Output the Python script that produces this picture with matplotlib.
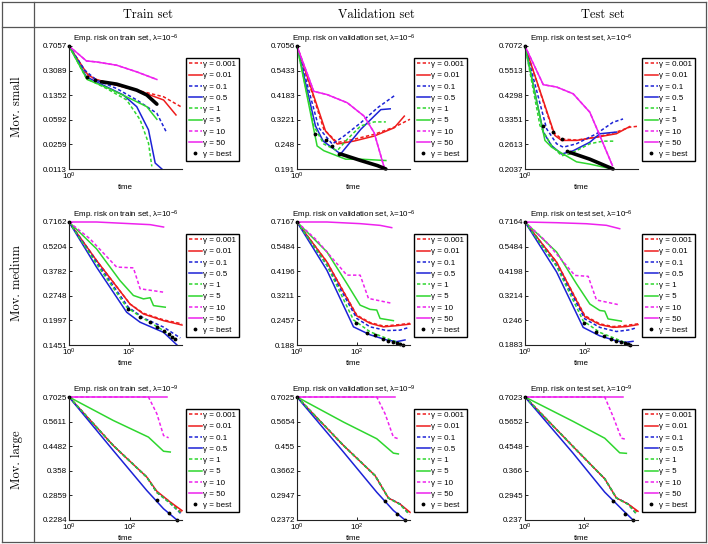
import matplotlib
matplotlib.use('Agg')
import matplotlib.pyplot as plt
from matplotlib.lines import Line2D
from matplotlib.ticker import FixedLocator, NullLocator

plt.rcParams['font.family'] = ['Liberation Sans', 'DejaVu Sans']
plt.rcParams['mathtext.fontset'] = 'custom'
plt.rcParams['mathtext.rm'] = 'Liberation Sans'
plt.rcParams['mathtext.it'] = 'Liberation Sans:italic'
plt.rcParams['mathtext.bf'] = 'Liberation Sans:bold'

# ---------------- data ----------------
gammas = ['0.001', '0.01', '0.1', '0.5', '1', '5', '10', '50']
col_titles = ['Train set', 'Validation set', 'Test set']
row_titles = ['Mov. small', 'Mov. medium', 'Mov. large']
set_names = ['train', 'validation', 'test']
lambda_exp = ['-6', '-6', '-9']

small_train = {
    '0.001': ([1, 1.376, 1.654, 2.389, 3.452, 5.640, 7.90], [0.7057, 0.280, 0.224, 0.189, 0.160, 0.128, 0.0898]),
    '0.01': ([1, 1.419, 1.654, 2.389, 3.452, 5.640, 7.077], [0.7057, 0.264, 0.229, 0.189, 0.160, 0.115, 0.0695]),
    '0.1': ([1, 1.334, 1.654, 2.389, 3.452, 4.988, 5.996], [0.7057, 0.313, 0.224, 0.169, 0.115, 0.0735, 0.0376]),
    '0.5': ([1, 1.376, 1.870, 2.702, 3.452, 4.280, 4.837, 5.469], [0.7057, 0.250, 0.189, 0.136, 0.0918, 0.0421, 0.0138, 0.0113]),
    '1': ([1, 1.376, 1.988, 2.872, 3.670, 4.280, 4.549], [0.7057, 0.237, 0.169, 0.115, 0.0592, 0.0270, 0.01235]),
    '5': ([1, 1.393, 1.988, 3.053, 4.150, 4.988], [0.7057, 0.229, 0.175, 0.121, 0.0918, 0.0601]),
    '10': ([1, 1.376, 1.654, 2.389, 3.452, 4.988], [0.7057, 0.427, 0.413, 0.370, 0.296, 0.229]),
    '50': ([1, 1.376, 1.654, 2.389, 3.452, 4.988], [0.7057, 0.427, 0.413, 0.370, 0.296, 0.229]),
    'best': ([1, 1.393, 1.62], [0.7057, 0.250, 0.226]),
    'trail': ([1.81, 2.389, 3.452, 4.150, 4.988], [0.212, 0.196, 0.160, 0.136, 0.100]),
}
small_val = {
    '0.001': ([1, 1.631, 2.083, 2.828, 4.082, 5.891, 7.85], [0.7056, 0.291, 0.253, 0.262, 0.276, 0.298, 0.324]),
    '0.01': ([1, 1.682, 2.083, 2.828, 4.082, 5.891, 7.077], [0.7056, 0.286, 0.249, 0.257, 0.271, 0.296, 0.335]),
    '0.1': ([1, 1.488, 1.900, 2.354, 3.196, 4.339, 6.074], [0.7056, 0.296, 0.249, 0.271, 0.312, 0.366, 0.421]),
    '0.5': ([1, 1.400, 1.611, 2.214, 3.196, 4.613, 5.473], [0.7056, 0.302, 0.257, 0.224, 0.291, 0.359, 0.362]),
    '1': ([1, 1.357, 1.631, 2.083, 2.502, 3.196, 4.082, 5.055], [0.7056, 0.302, 0.249, 0.232, 0.262, 0.302, 0.315, 0.315]),
    '5': ([1, 1.443, 1.631, 2.427, 3.196, 5.055], [0.7056, 0.244, 0.232, 0.212, 0.212, 0.209]),
    '10': ([1, 1.357, 1.734, 2.502, 3.397, 4.082, 4.904], [0.7056, 0.436, 0.421, 0.386, 0.335, 0.281, 0.194]),
    '50': ([1, 1.357, 1.734, 2.502, 3.397, 4.082, 4.904], [0.7056, 0.436, 0.421, 0.386, 0.335, 0.281, 0.194]),
    'best': ([1, 1.400, 1.702, 1.900, 2.148], [0.7056, 0.276, 0.259, 0.244, 0.224]),
    'trail': ([2.214, 3.196, 4.339, 5.055], [0.224, 0.209, 0.198, 0.191]),
}
small_test = {
    '0.001': ([1, 1.682, 1.960, 2.580, 3.724, 5.374, 6.864, 8.0], [0.7072, 0.296, 0.276, 0.273, 0.281, 0.296, 0.311, 0.314]),
    '0.01': ([1, 1.734, 1.960, 2.580, 3.724, 5.374, 6.864], [0.7072, 0.286, 0.272, 0.272, 0.281, 0.291, 0.313]),
    '0.1': ([1, 1.488, 1.788, 2.020, 2.580, 3.724, 5.055, 6.074], [0.7072, 0.306, 0.263, 0.254, 0.263, 0.291, 0.327, 0.338]),
    '0.5': ([1, 1.400, 1.631, 1.960, 2.427, 3.295, 3.959, 5.374], [0.7072, 0.296, 0.258, 0.237, 0.245, 0.267, 0.291, 0.296]),
    '1': ([1, 1.317, 1.631, 1.960, 2.284, 3.295, 4.208, 5.212], [0.7072, 0.316, 0.258, 0.233, 0.237, 0.263, 0.270, 0.270]),
    '5': ([1, 1.443, 1.631, 2.580, 3.295, 4.994], [0.7072, 0.272, 0.254, 0.219, 0.214, 0.2037]),
    '10': ([1, 1.400, 1.788, 2.427, 3.295, 3.959, 4.994], [0.7072, 0.478, 0.467, 0.436, 0.362, 0.286, 0.211]),
    '50': ([1, 1.400, 1.788, 2.427, 3.295, 3.959, 4.994], [0.7072, 0.478, 0.467, 0.436, 0.362, 0.286, 0.211]),
    'best': ([1, 1.400, 1.682, 1.960, 2.175], [0.7072, 0.316, 0.296, 0.276, 0.244]),
    'trail': ([2.284, 3.295, 5.055], [0.241, 0.225, 0.2037]),
}
medium_train = {
    '0.001': ([1, 8.15, 105, 293, 1360, 5550], [0.7162, 0.435, 0.247, 0.219, 0.201, 0.191]),
    '0.01': ([1, 8.15, 105, 293, 1360, 5550], [0.7162, 0.435, 0.247, 0.217, 0.199, 0.188]),
    '0.1': ([1, 8.15, 92.6, 293, 1360, 4885], [0.7162, 0.426, 0.237, 0.206, 0.183, 0.159]),
    '0.5': ([1, 8.15, 81.5, 227, 1360, 3784], [0.7162, 0.399, 0.222, 0.195, 0.171, 0.1451]),
    '1': ([1, 8.15, 81.5, 227, 1360, 3784], [0.7162, 0.416, 0.237, 0.210, 0.175, 0.1535]),
    '5': ([1, 8.15, 48.9, 136, 293, 489, 631, 1545], [0.7162, 0.506, 0.335, 0.276, 0.264, 0.268, 0.242, 0.237]),
    '10': ([1, 4.88, 37.8, 136, 227, 1360], [0.7162, 0.577, 0.399, 0.395, 0.301, 0.288]),
    '50': ([1, 8.15, 105, 489, 1360], [0.7162, 0.7162, 0.701, 0.692, 0.671]),
    'best': ([1, 92.6, 227, 489, 815, 1360, 1995, 2577, 3327], [0.7162, 0.231, 0.208, 0.195, 0.183, 0.175, 0.167, 0.162, 0.157]),
}
medium_val = {
    '0.001': ([1, 10, 100, 278, 774, 2154, 5995], [0.7167, 0.464, 0.260, 0.240, 0.231, 0.234, 0.238]),
    '0.01': ([1, 10, 100, 278, 774, 2154, 5995], [0.7167, 0.464, 0.258, 0.238, 0.229, 0.232, 0.236]),
    '0.1': ([1, 10, 100, 278, 1000, 2783, 5700], [0.7167, 0.448, 0.251, 0.229, 0.220, 0.221, 0.228]),
    '0.5': ([1, 10, 77.4, 278, 1000, 2154, 4084], [0.7167, 0.424, 0.229, 0.210, 0.1986, 0.195, 0.1986]),
    '1': ([1, 10, 77.4, 278, 1000, 3162], [0.7167, 0.448, 0.247, 0.217, 0.202, 0.190]),
    '5': ([1, 10, 46.4, 129, 278, 464, 599, 1668], [0.7167, 0.518, 0.367, 0.290, 0.277, 0.275, 0.251, 0.245]),
    '10': ([1, 4.64, 46.4, 129, 245, 1468], [0.7167, 0.587, 0.402, 0.402, 0.312, 0.296]),
    '50': ([1, 10, 129, 599, 1468], [0.7167, 0.7167, 0.704, 0.691, 0.674]),
    'best': ([1, 95, 215, 408, 774, 1136, 1668, 2154, 2783, 3415], [0.7167, 0.240, 0.215, 0.210, 0.200, 0.197, 0.195, 0.193, 0.190, 0.188]),
}
medium_test = {
    '0.001': ([1, 11.4, 100, 316, 880, 2448, 5995], [0.7164, 0.463, 0.259, 0.237, 0.230, 0.233, 0.237]),
    '0.01': ([1, 11.4, 100, 316, 880, 2448, 5995], [0.7164, 0.463, 0.256, 0.235, 0.228, 0.230, 0.235]),
    '0.1': ([1, 11.4, 100, 316, 1136, 3162, 5275], [0.7164, 0.447, 0.250, 0.228, 0.218, 0.222, 0.227]),
    '0.5': ([1, 11.4, 88, 316, 1136, 2448, 4084], [0.7164, 0.416, 0.228, 0.208, 0.197, 0.194, 0.196]),
    '1': ([1, 11.4, 88, 316, 1136, 3162], [0.7164, 0.442, 0.245, 0.216, 0.201, 0.189]),
    '5': ([1, 11.4, 52.7, 147, 316, 464, 599, 1668], [0.7164, 0.517, 0.366, 0.294, 0.274, 0.272, 0.250, 0.244]),
    '10': ([1, 4.64, 46.4, 129, 245, 1468], [0.7164, 0.587, 0.401, 0.397, 0.307, 0.291]),
    '50': ([1, 11.4, 114, 527, 1468], [0.7164, 0.711, 0.703, 0.691, 0.666]),
    'best': ([1, 95, 233, 441, 774, 1136, 1668, 2154, 2783, 3327], [0.7164, 0.238, 0.216, 0.208, 0.200, 0.197, 0.194, 0.192, 0.190, 0.1883]),
}
large_train = {
    '0.001': ([1, 28.2, 354, 757, 2083, 5050], [0.7025, 0.451, 0.338, 0.294, 0.269, 0.244]),
    '0.01': ([1, 28.2, 354, 757, 2083, 5050], [0.7025, 0.451, 0.338, 0.297, 0.269, 0.249]),
    '0.1': ([1, 28.2, 354, 757, 2083, 4800], [0.7025, 0.451, 0.338, 0.294, 0.266, 0.241]),
    '0.5': ([1, 28.2, 354, 1256, 3453], [0.7025, 0.431, 0.299, 0.253, 0.2284]),
    '1': ([1, 28.2, 354, 757, 2083, 4448], [0.7025, 0.451, 0.338, 0.294, 0.266, 0.245]),
    '5': ([1, 28.2, 402, 1256, 2083], [0.7025, 0.567, 0.487, 0.428, 0.425]),
    '10': ([1, 402, 757, 1256, 1836], [0.7025, 0.7025, 0.603, 0.494, 0.484]),
    '50': ([1, 1618], [0.7025, 0.7025]),
    'best': ([1, 757, 1836, 3453], [0.7025, 0.274, 0.243, 0.2284]),
}
large_val = {
    '0.001': ([1, 35.9, 408, 1136, 2783, 5995], [0.7025, 0.458, 0.351, 0.288, 0.273, 0.250]),
    '0.01': ([1, 35.9, 408, 1136, 2783, 5995], [0.7025, 0.458, 0.351, 0.288, 0.273, 0.254]),
    '0.1': ([1, 35.9, 408, 1136, 2783, 5700], [0.7025, 0.458, 0.351, 0.288, 0.273, 0.249]),
    '0.5': ([1, 35.9, 464, 1668, 4084], [0.7025, 0.432, 0.303, 0.258, 0.2372]),
    '1': ([1, 35.9, 408, 1136, 2783, 5275], [0.7025, 0.458, 0.351, 0.288, 0.272, 0.252]),
    '5': ([1, 35.9, 464, 1668, 2448], [0.7025, 0.563, 0.486, 0.428, 0.425]),
    '10': ([1, 464, 880, 1668, 2448], [0.7025, 0.7025, 0.606, 0.493, 0.486]),
    '50': ([1, 1896], [0.7025, 0.7025]),
    'best': ([1, 880, 2154, 4084], [0.7025, 0.281, 0.250, 0.2372]),
}
large_test = {
    '0.001': ([1, 42.6, 497, 1230, 3042, 6610], [0.7023, 0.453, 0.341, 0.288, 0.273, 0.254]),
    '0.01': ([1, 42.6, 497, 1230, 3042, 6610], [0.7023, 0.453, 0.341, 0.288, 0.273, 0.256]),
    '0.1': ([1, 42.6, 497, 1230, 3042, 5807], [0.7023, 0.453, 0.341, 0.288, 0.273, 0.250]),
    '0.5': ([1, 42.6, 497, 2064, 4486], [0.7023, 0.427, 0.303, 0.258, 0.237]),
    '1': ([1, 42.6, 497, 1230, 3042, 5807], [0.7023, 0.453, 0.341, 0.288, 0.272, 0.251]),
    '5': ([1, 42.6, 497, 1593, 2673], [0.7023, 0.566, 0.488, 0.429, 0.427]),
    '10': ([1, 497, 950, 1813, 2673], [0.7023, 0.7023, 0.591, 0.488, 0.483]),
    '50': ([1, 2064], [0.7023, 0.7023]),
    'best': ([1, 950, 2349, 4486], [0.7023, 0.280, 0.250, 0.237]),
}

small_train_yticks = [0.7057, 0.3089, 0.1352, 0.0592, 0.0259, 0.0113]
small_val_yticks = [0.7056, 0.5433, 0.4183, 0.3221, 0.248, 0.191]
small_test_yticks = [0.7072, 0.5513, 0.4298, 0.3351, 0.2613, 0.2037]
medium_train_yticks = [0.7162, 0.5204, 0.3782, 0.2748, 0.1997, 0.1451]
medium_val_yticks = [0.7167, 0.5484, 0.4196, 0.3211, 0.2457, 0.188]
medium_test_yticks = [0.7164, 0.5484, 0.4198, 0.3214, 0.246, 0.1883]
large_train_yticks = [0.7025, 0.5611, 0.4482, 0.358, 0.2859, 0.2284]
large_val_yticks = [0.7025, 0.5654, 0.455, 0.3662, 0.2947, 0.2372]
large_test_yticks = [0.7023, 0.5652, 0.4548, 0.366, 0.2945, 0.237]

xticks_small = [1]
xticks_big = [1, 100]

# ---------------- layout / style ----------------
panels = [[small_train, small_val, small_test],
          [medium_train, medium_val, medium_test],
          [large_train, large_val, large_test]]
panel_yticks = [[small_train_yticks, small_val_yticks, small_test_yticks],
                [medium_train_yticks, medium_val_yticks, medium_test_yticks],
                [large_train_yticks, large_val_yticks, large_test_yticks]]
panel_xticks = [xticks_small, xticks_big, xticks_big]

RED, BLUE, GREEN, MAG = '#ee1c1c', '#1c22d6', '#2ed62e', '#ee22ee'
styles = {
    '0.001': (RED, True), '0.01': (RED, False),
    '0.1': (BLUE, True), '0.5': (BLUE, False),
    '1': (GREEN, True), '5': (GREEN, False),
    '10': (MAG, True), '50': (MAG, False),
}

W, H = 708, 544
FS = 5.8
fig = plt.figure(figsize=(W / 100, H / 100), dpi=100)

col_left = [69, 297, 525]
row_top = [46, 222, 397]
ax_w, ax_h = 113, 123

for i in range(3):
    for j in range(3):
        data = panels[i][j]
        yt = panel_yticks[i][j]
        ax = fig.add_axes([col_left[j] / W, 1 - (row_top[i] + ax_h) / H, ax_w / W, ax_h / H])
        for g in gammas:
            t, r = data[g]
            c, dashed = styles[g]
            if dashed:
                ax.plot(t, r, color=c, lw=1.1, ls='--', dashes=(2.2, 1.5), label='γ = ' + g,
                        clip_on=False)
            else:
                ax.plot(t, r, color=c, lw=1.1, ls='-', label='γ = ' + g, clip_on=False)
        if 'trail' in data:
            tt, rr = data['trail']
            ax.plot(tt, rr, color='k', lw=2.6, solid_capstyle='round', label='_nolegend_',
                    clip_on=False)
        tb, rb = data['best']
        ax.plot(tb, rb, ls='none', marker='.', ms=3.5, color='k', label='γ = best', clip_on=False)

        ax.set_xscale('log')
        ax.set_yscale('log')
        xmax = max(max(data[k][0]) for k in data)
        ax.set_xlim(1, xmax)
        ax.set_ylim(yt[-1], yt[0])
        ax.yaxis.set_major_locator(FixedLocator(yt))
        ax.yaxis.set_minor_locator(NullLocator())
        ax.set_yticklabels([str(v) for v in yt])
        xt = panel_xticks[i]
        ax.xaxis.set_major_locator(FixedLocator(xt))
        ax.xaxis.set_minor_locator(NullLocator())
        ax.set_xticklabels(['$10^{%d}$' % (len(str(int(v))) - 1) for v in xt])
        ax.tick_params(direction='in', length=2.5, width=0.6, labelsize=FS, pad=1.5)
        for s in ['top', 'right']:
            ax.spines[s].set_visible(False)
        for s in ['left', 'bottom']:
            ax.spines[s].set_linewidth(0.8)
            ax.spines[s].set_color('#222222')
        ax.set_title('Emp. risk on %s set, λ=10$^{%s}$' % (set_names[j], lambda_exp[i]),
                     fontsize=FS, pad=3)
        ax.set_xlabel('time', fontsize=FS, labelpad=1)
        leg = ax.legend(loc='upper left', bbox_to_anchor=(1.035, 0.905), borderaxespad=0,
                        fontsize=FS, frameon=True, fancybox=False, edgecolor='k',
                        framealpha=1, handlelength=1.6, handletextpad=0.2,
                        labelspacing=0.45, borderpad=0.35)
        leg.get_frame().set_linewidth(1.0)

# table frame
def px_line(x0, y0, x1, y1, **kw):
    fig.add_artist(Line2D([x0 / W, x1 / W], [1 - y0 / H, 1 - y1 / H],
                          transform=fig.transFigure, **kw))

lc = '#555555'
px_line(2, 2, 706, 2, color=lc, lw=0.9)
px_line(2, 542, 706, 542, color=lc, lw=0.9)
px_line(2, 2, 2, 542, color=lc, lw=0.9)
px_line(706, 2, 706, 542, color=lc, lw=0.9)
px_line(34, 2, 34, 542, color=lc, lw=0.9)
px_line(2, 27, 706, 27, color=lc, lw=0.9)

for x, s in zip([148, 376, 603], col_titles):
    fig.text(x / W, 1 - 15 / H, s, ha='center', va='center', fontsize=9, family='cmr10')
for y, s in zip([107, 283, 460], row_titles):
    fig.text(17 / W, 1 - y / H, s, ha='center', va='center', rotation=90, fontsize=9, family='cmr10')

fig.savefig('out.png', dpi=100)
